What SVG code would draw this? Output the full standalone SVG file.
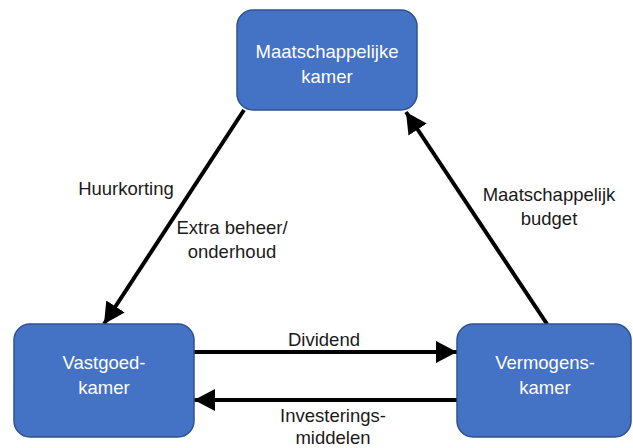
<svg xmlns="http://www.w3.org/2000/svg" width="633" height="448" viewBox="0 0 633 448">
  <style>
    .box { fill: #4472C4; stroke: #2F528F; stroke-width: 1.5; }
    .boxtext { font-family: "Liberation Sans", Arial, sans-serif; font-size: 18.5px; fill: #ffffff; text-anchor: middle; }
    .label { font-family: "Liberation Sans", Arial, sans-serif; font-size: 18.5px; fill: #1a1a1a; text-anchor: middle; }
    .flow { stroke: #000000; stroke-width: 4; fill: none; marker-end: url(#head); }
  </style>
  <defs>
    <marker id="head" markerUnits="userSpaceOnUse" markerWidth="22" markerHeight="24" refX="21" refY="12" orient="auto">
      <path d="M0,1 L21,12 L0,23 z" fill="#000000"/>
    </marker>
  </defs>

  <!-- connectors -->
  <g id="connectors">
    <line class="flow" x1="244" y1="110" x2="104" y2="324"/>
    <line class="flow" x1="547" y1="324" x2="406" y2="112"/>
    <line class="flow" x1="194" y1="352" x2="457" y2="352"/>
    <line class="flow" x1="457" y1="400" x2="194" y2="400"/>
  </g>

  <!-- connector labels -->
  <g id="labels">
    <text class="label" x="126" y="195">Huurkorting</text>
    <text class="label" x="232" y="234">Extra beheer/</text>
    <text class="label" x="232" y="258">onderhoud</text>
    <text class="label" x="549" y="201">Maatschappelijk</text>
    <text class="label" x="549" y="225">budget</text>
    <text class="label" x="324" y="346">Dividend</text>
    <text class="label" x="333" y="422">Investerings-</text>
    <text class="label" x="333" y="444">middelen</text>
  </g>

  <!-- nodes -->
  <g id="maatschappelijke-kamer">
    <rect class="box" x="237" y="10" width="180" height="100" rx="16"/>
    <text class="boxtext" x="327" y="58">Maatschappelijke</text>
    <text class="boxtext" x="327" y="83">kamer</text>
  </g>
  <g id="vastgoedkamer">
    <rect class="box" x="14" y="324" width="180" height="113" rx="16"/>
    <text class="boxtext" x="104" y="369">Vastgoed-</text>
    <text class="boxtext" x="104" y="394">kamer</text>
  </g>
  <g id="vermogenskamer">
    <rect class="box" x="457" y="324" width="174" height="113" rx="16"/>
    <text class="boxtext" x="545" y="369">Vermogens-</text>
    <text class="boxtext" x="545" y="394">kamer</text>
  </g>
</svg>
